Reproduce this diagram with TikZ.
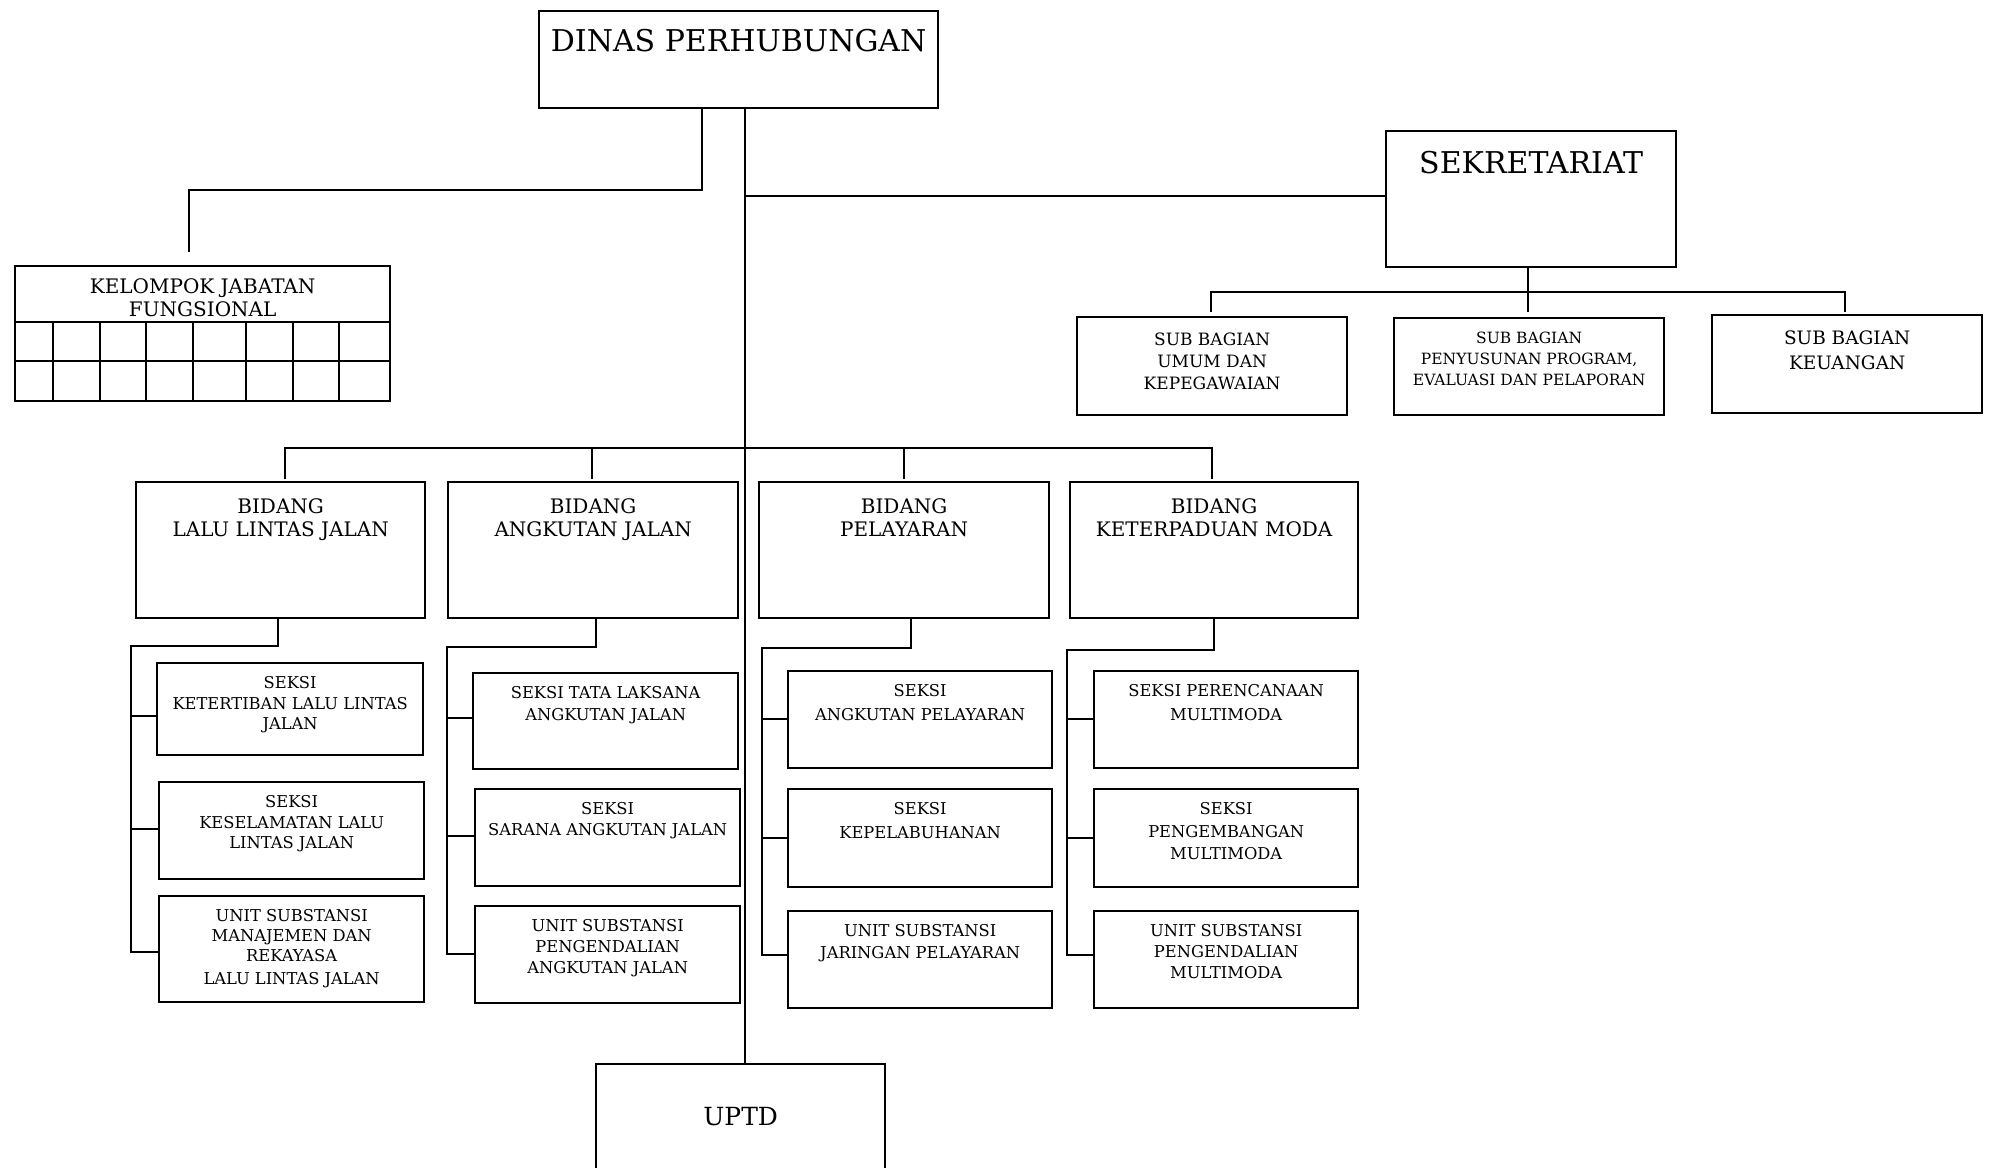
\documentclass[tikz,border=0pt]{standalone}
\usepackage{fontspec}
\setmainfont{DejaVu Serif}
\begin{document}
\begin{tikzpicture}[x=1pt,y=-1pt,
  box/.style={draw, line width=2.3pt, inner sep=0pt, anchor=north west},
  lbl/.style={anchor=north, inner sep=0pt, align=center},
  conn/.style={line width=2.3pt}]
\useasboundingbox (0,0) rectangle (1991,1167);
\newcommand\obox[5]{\node[box, minimum width={(#4-#2)*1pt}, minimum height={(#5-#3)*1pt}] (#1) at (#2,#3) {};}
\newcommand\olbl[5]{\node[lbl, font=\fontsize{#3}{#4}\selectfont, yshift=-#2pt] (#1t) at (#1.north) {#5};}
\newcommand\subtree[7]{%
 \coordinate (#1s) at (#2,#3);
 \coordinate (#1v) at (#4,#7);
 \draw[conn] (#1.south -| #1s) -- (#1s) -- (#1s -| #1v) -- (#1v) -- (#13.west |- #1v);
 \draw[conn] (#1v |- 0,#5) -- (#11.west |- 0,#5);
 \draw[conn] (#1v |- 0,#6) -- (#12.west |- 0,#6);
}
% top
\obox{dinas}{538}{10}{937}{107}
\olbl{dinas}{19}{30}{36}{DINAS PERHUBUNGAN}
\obox{sek}{1385}{130}{1675}{266}
\olbl{sek}{21}{30}{36}{SEKRETARIAT}
% kelompok
\obox{kel}{14}{265}{389}{400}
\olbl{kel}{13}{20}{23.5}{KELOMPOK JABATAN\\FUNGSIONAL}
\draw[conn] (kel.west |- 0,322) -- (kel.east |- 0,322);
\draw[conn] (kel.west |- 0,361) -- (kel.east |- 0,361);
\foreach \x in {53,100,146,193,246,293,339} \draw[conn] (kel.south -| \x,0) -- (\x,322);
% sub bagian
\obox{umum}{1076}{316}{1346}{414}
\olbl{umum}{17}{17}{22}{SUB BAGIAN\\UMUM DAN\\KEPEGAWAIAN}
\obox{peny}{1393}{317}{1663}{414}
\olbl{peny}{15}{15.5}{21}{SUB BAGIAN\\PENYUSUNAN PROGRAM,\\EVALUASI DAN PELAPORAN}
\obox{keu}{1711}{314}{1981}{412}
\olbl{keu}{17}{18.5}{24.3}{SUB BAGIAN\\KEUANGAN}
% bidang
\obox{lalu}{135}{481}{424}{617}
\olbl{lalu}{17}{20}{23.5}{BIDANG\\LALU LINTAS JALAN}
\obox{ang}{447}{481}{737}{617}
\olbl{ang}{17}{20}{23.5}{BIDANG\\ANGKUTAN JALAN}
\obox{pel}{758}{481}{1048}{617}
\olbl{pel}{17}{20}{23.5}{BIDANG\\PELAYARAN}
\obox{ket}{1069}{481}{1357}{617}
\olbl{ket}{17}{20}{23.5}{BIDANG\\KETERPADUAN MODA}
% seksi
\obox{lalu1}{156}{662}{422}{754}
\olbl{lalu1}{14.5}{16.3}{20.3}{SEKSI\\KETERTIBAN LALU LINTAS\\JALAN}
\obox{lalu2}{158}{781}{423}{878}
\olbl{lalu2}{14.5}{16.3}{20.3}{SEKSI\\KESELAMATAN LALU\\LINTAS JALAN}
\obox{lalu3}{158}{895}{423}{1001}
\olbl{lalu3}{14.5}{16.3}{19.8}{UNIT SUBSTANSI\\MANAJEMEN DAN\\REKAYASA\\[3pt]LALU LINTAS JALAN}
\obox{ang1}{472}{672}{737}{768}
\olbl{ang1}{14.5}{16.3}{21.8}{SEKSI TATA LAKSANA\\ANGKUTAN JALAN}
\obox{ang2}{474}{788}{739}{885}
\olbl{ang2}{14.5}{16.3}{21}{SEKSI\\SARANA ANGKUTAN JALAN}
\obox{ang3}{474}{905}{739}{1002}
\olbl{ang3}{14.5}{16.3}{20.6}{UNIT SUBSTANSI\\PENGENDALIAN\\ANGKUTAN JALAN}
\obox{pel1}{787}{670}{1051}{767}
\olbl{pel1}{14.5}{16.3}{23.3}{SEKSI\\ANGKUTAN PELAYARAN}
\obox{pel2}{787}{788}{1051}{886}
\olbl{pel2}{14.5}{16.3}{23.3}{SEKSI\\KEPELABUHANAN}
\obox{pel3}{787}{910}{1051}{1007}
\olbl{pel3}{14.5}{16.3}{21.5}{UNIT SUBSTANSI\\JARINGAN PELAYARAN}
\obox{ket1}{1093}{670}{1357}{767}
\olbl{ket1}{14.5}{16.3}{23.3}{SEKSI PERENCANAAN\\MULTIMODA}
\obox{ket2}{1093}{788}{1357}{886}
\olbl{ket2}{14.5}{16.3}{22.2}{SEKSI\\PENGEMBANGAN\\MULTIMODA}
\obox{ket3}{1093}{910}{1357}{1007}
\olbl{ket3}{14.5}{16.3}{20.8}{UNIT SUBSTANSI\\PENGENDALIAN\\MULTIMODA}
% uptd
\obox{uptd}{595}{1063}{884}{1190}
\olbl{uptd}{44}{25}{30}{UPTD}
% connectors
\coordinate (tr) at (745,0);
\draw[conn] (dinas.south -| tr) -- (uptd.north -| tr);
\coordinate (kb) at (702,190);
\coordinate (kend) at (189,252);
\draw[conn] (dinas.south -| kb) -- (kb) -- (kb -| kend) -- (kend);
\draw[conn] (tr |- 0,196) -- (sek.west |- 0,196);
\coordinate (sd1) at (1211,312);
\coordinate (sd2) at (1528,312);
\coordinate (sd3) at (1845,312);
\coordinate (sbus) at (0,292);
\draw[conn] (sek.south -| sd2) -- (sd2);
\draw[conn] (sd1) -- (sd1 |- sbus) -- (sd3 |- sbus) -- (sd3);
\coordinate (b1) at (285,479);
\coordinate (b2) at (592,479);
\coordinate (b3) at (904,479);
\coordinate (b4) at (1212,479);
\coordinate (bbus) at (0,448);
\draw[conn] (b1) -- (b1 |- bbus) -- (b4 |- bbus) -- (b4);
\draw[conn] (b2 |- bbus) -- (b2);
\draw[conn] (b3 |- bbus) -- (b3);
\subtree{lalu}{278}{646}{131}{716}{829}{952}
\subtree{ang}{596}{647}{447}{718}{836}{954}
\subtree{pel}{911}{648}{762}{719}{838}{955}
\subtree{ket}{1214}{650}{1067}{719}{838}{955}
\end{tikzpicture}
\end{document}
